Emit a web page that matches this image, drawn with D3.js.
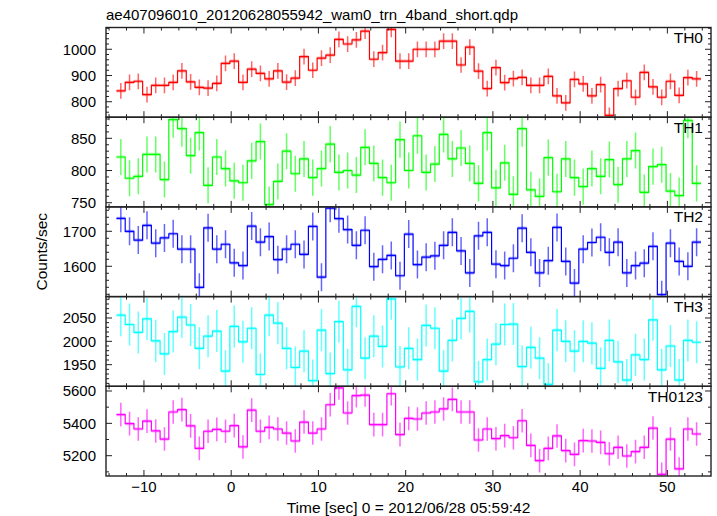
<!DOCTYPE html>
<html><head><meta charset="utf-8">
<script src="https://cdn.jsdelivr.net/npm/d3@7"></script>
<style>body{margin:0;background:#fff}svg{display:block}text{font-family:"Liberation Sans",Arial,Helvetica,sans-serif;fill:#000}</style>
</head><body><svg id="c" width="717" height="516"></svg>
<script>
// bin centres (s), 1 s bins
const times = [-12.65,-11.65,-10.65,-9.65,-8.65,-7.65,-6.65,-5.65,-4.65,-3.65,-2.65,-1.65,-0.65,0.35,1.35,2.35,3.35,4.35,5.35,6.35,7.35,8.35,9.35,10.35,11.35,12.35,13.35,14.35,15.35,16.35,17.35,18.35,19.35,20.35,21.35,22.35,23.35,24.35,25.35,26.35,27.35,28.35,29.35,30.35,31.35,32.35,33.35,34.35,35.35,36.35,37.35,38.35,39.35,40.35,41.35,42.35,43.35,44.35,45.35,46.35,47.35,48.35,49.35,50.35,51.35,52.35,53.35];
const binWidth = 1;

const th0 = [841,874,878,827,862,862,874,918,876,855,852,870,946,955,874,924,908,887,918,875,890,972,920,966,978,1038,1020,1036,1069,962,987,1076,955,955,1000,1000,1000,1031,1031,940,1008,917,850,930,873,888,893,862,862,897,822,796,885,868,822,865,748,850,880,817,912,857,817,878,824,892,887];
const th1 = [821,788,791,825,825,786,879,865,823,859,777,821,803,784,781,815,845,747,783,830,795,818,789,803,841,797,800,793,836,811,789,781,848,800,854,797,810,856,818,835,811,780,859,773,812,763,865,770,760,820,767,818,789,775,803,791,817,778,818,831,766,806,809,768,761,878,780];
const th2 = [1737,1700,1675,1717,1666,1681,1693,1649,1649,1540,1710,1649,1663,1610,1602,1715,1669,1685,1619,1649,1663,1634,1714,1569,1766,1736,1705,1660,1703,1599,1620,1631,1573,1692,1605,1626,1630,1660,1697,1644,1581,1687,1697,1606,1602,1623,1709,1640,1581,1616,1711,1614,1552,1649,1668,1683,1640,1669,1581,1602,1609,1657,1519,1666,1614,1600,1669];
const th3 = [2056,2036,2019,2048,2001,1973,2021,2052,2035,1985,2011,2022,1936,2032,1999,2028,1929,2056,2039,1985,1944,1979,1916,2024,1931,2042,1939,2075,1964,2011,1989,2091,1945,1985,1961,2034,2028,1936,2002,2049,2064,1913,1961,1994,2036,2037,1946,1987,1964,1908,2024,2000,1979,2000,1996,1942,2002,1956,1917,1971,1961,2046,1939,1990,1917,2002,1998];
const th0123 = [5454,5398,5365,5414,5353,5303,5470,5485,5384,5245,5351,5363,5351,5386,5254,5482,5351,5375,5365,5340,5291,5408,5340,5365,5515,5619,5464,5571,5575,5392,5392,5583,5330,5431,5427,5464,5470,5489,5548,5470,5470,5297,5365,5305,5324,5311,5416,5264,5169,5245,5322,5231,5208,5293,5291,5282,5212,5252,5198,5225,5252,5371,5085,5303,5118,5365,5334];

const panelNames = ["TH0","TH1","TH2","TH3","TH0123"];
const panelColors = ["#ff0000","#00ff00","#0000ff","#00ffff","#ff00ff"];
const panelErrors = [30,28,40,45,73];
const yDomains = [[741,1083],[743.5,882.8],[1513.4,1769.7],[1903.7,2095.8],[5074.5,5629]];
const yMajorTicks = [[800,900,1000],[750,800,850],[1600,1700],[1950,2000,2050],[5200,5400,5600]];
const yMinorStep = [20,10,20,10,100];
const xTickValues = [-10,0,10,20,30,40,50];
const xMinorStep = 2;
const series = [th0,th1,th2,th3,th0123];

const titleText = "ae407096010_20120628055942_wam0_trn_4band_short.qdp";
const xLabelText = "Time [sec] 0 = 2012/06/28 05:59:42";
const yLabelText = "Counts/sec";

const svg = d3.select("#c");
const L = 106, R = 711, T = 27.5, B = 476;
const nP = 5, pH = (B - T) / nP;
const x = d3.scaleLinear().domain([-14.35, 55.0]).range([L, R]);
const frame = "#222";
const majLen = 6, minLen = 3;

const xMinor = d3.range(-14, 55.01, xMinorStep).filter(v => !xTickValues.includes(v));

series.forEach((vals, p) => {
  const top = T + p * pH, bot = top + pH;
  const y = d3.scaleLinear().domain(yDomains[p]).range([bot, top]);
  const col = panelColors[p], err = panelErrors[p];
  const g = svg.append("g");
  const cid = "clip" + p;
  svg.append("clipPath").attr("id", cid).append("rect")
    .attr("x", L).attr("y", top).attr("width", R - L).attr("height", pH);
  const dg = g.append("g").attr("clip-path", `url(#${cid})`);
  const pts = times.map((t, i) => ({t, v: vals[i]}));

  // horizontal halo (x error bars)
  dg.selectAll("line.hx").data(pts).join("line")
    .attr("x1", d => x(d.t - binWidth/2)).attr("x2", d => x(d.t + binWidth/2))
    .attr("y1", d => y(d.v)).attr("y2", d => y(d.v))
    .attr("stroke", col).attr("stroke-opacity", 0.3).attr("stroke-width", 3.2);
  // vertical error bars
  dg.selectAll("line.ey").data(pts).join("line")
    .attr("x1", d => x(d.t)).attr("x2", d => x(d.t))
    .attr("y1", d => y(d.v - err)).attr("y2", d => y(d.v + err))
    .attr("stroke", col).attr("stroke-opacity", 0.6).attr("stroke-width", 1.5);
  // step line
  const stepPts = [];
  pts.forEach(d => { stepPts.push([d.t - binWidth/2, d.v]); stepPts.push([d.t + binWidth/2, d.v]); });
  dg.append("path").datum(stepPts)
    .attr("d", d3.line().x(d => x(d[0])).y(d => y(d[1])))
    .attr("fill", "none").attr("stroke", col).attr("stroke-width", 1.2);

  // frame
  g.append("rect").attr("x", L).attr("y", top).attr("width", R - L).attr("height", pH)
    .attr("fill", "none").attr("stroke", frame).attr("stroke-width", 1.4);

  const tg = g.append("g").attr("stroke", frame).attr("stroke-width", 1);
  xTickValues.forEach(v => {
    tg.append("line").attr("x1", x(v)).attr("x2", x(v)).attr("y1", bot).attr("y2", bot - majLen);
    tg.append("line").attr("x1", x(v)).attr("x2", x(v)).attr("y1", top).attr("y2", top + majLen);
  });
  xMinor.forEach(v => {
    tg.append("line").attr("x1", x(v)).attr("x2", x(v)).attr("y1", bot).attr("y2", bot - minLen);
    tg.append("line").attr("x1", x(v)).attr("x2", x(v)).attr("y1", top).attr("y2", top + minLen);
  });
  const [d0, d1] = yDomains[p];
  const ms = yMinorStep[p];
  d3.range(Math.ceil(d0 / ms) * ms, d1, ms).forEach(v => {
    const len = yMajorTicks[p].includes(v) ? majLen : minLen;
    tg.append("line").attr("x1", L).attr("x2", L + len).attr("y1", y(v)).attr("y2", y(v));
    tg.append("line").attr("x1", R).attr("x2", R - len).attr("y1", y(v)).attr("y2", y(v));
  });
  yMajorTicks[p].forEach(v => {
    g.append("text").attr("x", L - 10).attr("y", y(v)).attr("dy", "0.35em")
      .attr("text-anchor", "end").attr("font-size", 15).text(v);
  });
  g.append("text").attr("x", R - 8).attr("y", top + 15.5).attr("text-anchor", "end")
    .attr("font-size", 15.5).text(panelNames[p]);
});

xTickValues.forEach(v => {
  svg.append("text").attr("x", x(v)).attr("y", B + 16).attr("text-anchor", "middle")
    .attr("font-size", 15).text(v < 0 ? "\u2212" + Math.abs(v) : v);
});
svg.append("text").attr("x", L).attr("y", 20).attr("font-size", 15).text(titleText);
svg.append("text").attr("x", (L + R) / 2).attr("y", 513).attr("text-anchor", "middle")
  .attr("font-size", 15.5).text(xLabelText);
svg.append("text").attr("transform", `translate(47,${(T + B) / 2}) rotate(-90)`)
  .attr("text-anchor", "middle").attr("font-size", 15.5).text(yLabelText);
</script></body></html>
